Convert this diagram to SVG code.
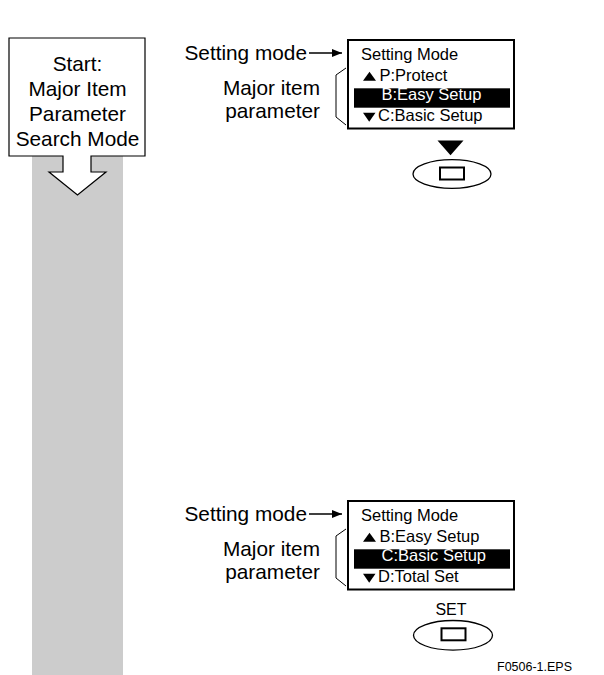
<svg xmlns="http://www.w3.org/2000/svg" width="604" height="675" viewBox="0 0 604 675">
<style>
text{font-family:"Liberation Sans",Arial,sans-serif;fill:#000}
.lbl{font-size:20.8px}
.lcd{font-size:16.5px}
.hl{fill:#fff}
.box{fill:#fff;stroke:#000;stroke-width:2}
.thin{fill:none;stroke:#000;stroke-width:1}
.btn{fill:#fff;stroke:#000;stroke-width:1.3}
.key{fill:#fff;stroke:#000;stroke-width:2}
</style>
<defs>
<marker id="ah" viewBox="0 0 10 8" refX="10" refY="4" markerWidth="10" markerHeight="8" markerUnits="userSpaceOnUse" orient="auto">
<path d="M0,0 L10,4 L0,8 Z" fill="#000"/>
</marker>
</defs>
<rect x="32" y="150" width="91" height="525" fill="#cccccc"/>
<g id="start">
<path d="M9,38 H145 V156 H91 V172 H106 L77.5,195 L49,172 H63 V156 H9 Z" fill="#fff" stroke="#000" stroke-width="1.2"/>
<text class="lbl" x="77.5" y="70.5" text-anchor="middle">Start:</text>
<text class="lbl" x="77.5" y="95.5" text-anchor="middle">Major Item</text>
<text class="lbl" x="77.5" y="120.5" text-anchor="middle">Parameter</text>
<text class="lbl" x="77.5" y="145.5" text-anchor="middle">Search Mode</text>
</g>
<g id="connectors">
<line x1="309" y1="53" x2="342" y2="53" stroke="#000" stroke-width="1.3" marker-end="url(#ah)"/>
<polyline class="thin" points="346,68 336,75 336,117 346,125"/>
<line x1="309" y1="514" x2="342" y2="514" stroke="#000" stroke-width="1.3" marker-end="url(#ah)"/>
<polyline class="thin" points="346,529 336,536 336,578 346,586"/>
</g>
<g id="labels-top">
<text class="lbl" x="307" y="60" text-anchor="end">Setting mode</text>
<text class="lbl" x="320" y="95" text-anchor="end">Major item</text>
<text class="lbl" x="320" y="118" text-anchor="end">parameter</text>
</g>
<g id="lcd-top">
<rect class="box" x="348" y="40" width="166" height="88.5"/>
<rect x="354" y="88.3" width="156" height="19.4" fill="#000"/>
<text class="lcd" x="361" y="60">Setting Mode</text>
<polygon points="363,80.7 376,80.7 369.5,71.7" fill="#000"/>
<text class="lcd" x="379.5" y="80.7">P:Protect</text>
<text class="lcd hl" x="381.5" y="100.3">B:Easy Setup</text>
<polygon points="363,112.7 375.5,112.7 369.2,121.7" fill="#000"/>
<text class="lcd" x="378" y="121">C:Basic Setup</text>
</g>
<g id="key-top">
<polygon points="437.5,140.5 463.5,140.5 450.5,155.3" fill="#000"/>
<ellipse class="btn" cx="452" cy="174" rx="39" ry="14.3"/>
<rect class="key" x="440" y="167.5" width="24" height="12"/>
</g>
<g id="labels-bottom">
<text class="lbl" x="307" y="521" text-anchor="end">Setting mode</text>
<text class="lbl" x="320" y="556" text-anchor="end">Major item</text>
<text class="lbl" x="320" y="579" text-anchor="end">parameter</text>
</g>
<g id="lcd-bottom">
<rect class="box" x="348" y="501" width="166" height="88.5"/>
<rect x="354" y="549.3" width="156" height="19.4" fill="#000"/>
<text class="lcd" x="361" y="521">Setting Mode</text>
<polygon points="363,541.7 376,541.7 369.5,532.7" fill="#000"/>
<text class="lcd" x="379.5" y="541.7">B:Easy Setup</text>
<text class="lcd hl" x="381.5" y="561.3">C:Basic Setup</text>
<polygon points="363,573.7 375.5,573.7 369.2,582.7" fill="#000"/>
<text class="lcd" x="378" y="582">D:Total Set</text>
</g>
<g id="key-bottom">
<text x="451" y="614.5" font-size="16" text-anchor="middle">SET</text>
<ellipse class="btn" cx="453" cy="635.3" rx="39.5" ry="14.8"/>
<rect class="key" x="441.5" y="628.3" width="24" height="12"/>
</g>
<text x="497" y="671" font-size="12.5">F0506-1.EPS</text>
</svg>
